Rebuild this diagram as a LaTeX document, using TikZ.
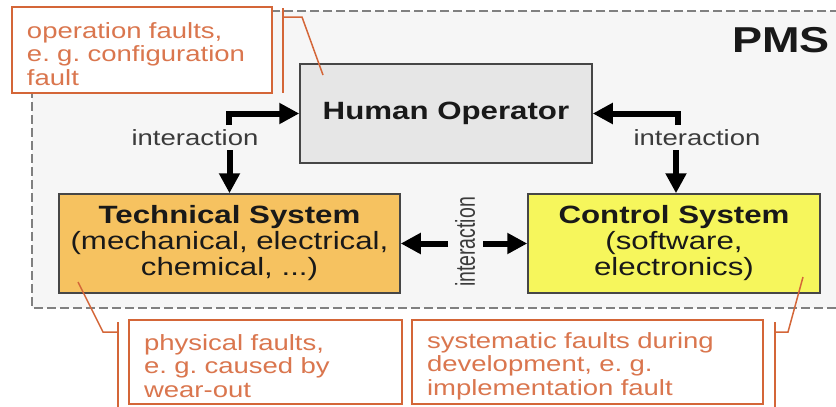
\documentclass[tikz,border=0pt]{standalone}
\usepackage{fontspec}
\setmainfont{Liberation Sans}[FakeStretch=1.25]
\newfontfamily\plainfont{Liberation Sans}
\usetikzlibrary{arrows.meta}
\definecolor{annc}{RGB}{212,102,56}
\definecolor{annt}{RGB}{218,118,78}
\definecolor{tsfill}{RGB}{246,194,96}
\definecolor{csfill}{RGB}{246,246,92}
\definecolor{hofill}{RGB}{230,230,230}
\definecolor{pmsfill}{RGB}{246,246,246}
\definecolor{pmsline}{RGB}{128,128,128}
\definecolor{boxline}{RGB}{70,70,70}
\definecolor{txt}{RGB}{25,25,25}
\frenchspacing
\begin{document}
\begin{tikzpicture}[x=1pt,y=-1pt,
  mainbox/.style={draw=boxline, line width=1.5pt, inner sep=0pt, align=center, text=txt, font=\fontsize{25}{26}\selectfont},
  annbox/.style={draw=annc, line width=2pt, fill=white, inner xsep=15pt, inner ysep=0pt, align=left, text=annt, font=\fontsize{22}{23.5}\selectfont},
  callout/.style={draw=annc, line width=1.5pt},
  arr/.style={line width=6pt, -{Triangle[length=20pt,width=20pt]}, black},
  lbl/.style={text=txt!85, font=\fontsize{22}{24}\selectfont, inner sep=0pt}]
\useasboundingbox (0,0) rectangle (836,407);
\clip (0,0) rectangle (836,407);
\fill[white] (0,0) rectangle (836,407);
% PMS container
\draw[draw=pmsline, fill=pmsfill, line width=1.5pt, dash pattern=on 9pt off 4pt] (32,11) rectangle (860,308);
\node[anchor=base east, inner sep=0pt, text=txt, font=\fontsize{36}{38}\selectfont\bfseries] (pms) at (830,52) {PMS};
% main boxes
\node[mainbox, fill=hofill, minimum width=292pt, minimum height=99pt] (HO) at (446,113.5) {\textbf{Human Operator}};
\node[mainbox, fill=tsfill, minimum width=341pt, minimum height=99pt] (TS) at (229.5,243.5) {\textbf{Technical System}\\(mechanical, electrical,\\chemical, ...)};
\node[mainbox, fill=csfill, minimum width=292pt, minimum height=99pt] (CS) at (674,243.5) {\textbf{Control System}\\(software,\\electronics)};
% interaction labels
\node[lbl, anchor=base] (il1) at (195,145) {interaction};
\node[lbl, anchor=base] (il2) at (697,145) {interaction};
\node[inner sep=0pt, text=txt!85] (il3) at (465,242) {\rotatebox{90}{\scalebox{1}[1.4]{\plainfont\fontsize{19.5}{20}\selectfont interaction}}};
% arrow coordinates
\coordinate (c1) at (229,125);
\coordinate (c2) at (229.5,150);
\coordinate (c3) at (678,125);
\coordinate (c4) at (676,150);
\coordinate (m1) at (448,243.5);
\coordinate (m2) at (483,243.5);
\draw[arr] (c1) |- (HO.west);
\draw[arr] (c2) -- (c2 |- TS.north);
\draw[arr] (c3) |- (HO.east);
\draw[arr] (c4) -- (c4 |- CS.north);
\draw[arr] (m1) -- (TS.east);
\draw[arr] (m2) -- (CS.west);
% annotation boxes
\node[annbox, text width=230pt, minimum height=86pt] (A1) at (142,50) {\rule{0pt}{24pt}operation faults,\\e. g. configuration\\fault};
\node[annbox, text width=243pt, minimum height=84pt] (A2) at (265.5,362) {\rule{0pt}{24pt}physical faults,\\e. g. caused by\\wear-out};
\node[annbox, text width=321pt, minimum height=84pt] (A3) at (587.5,362) {\rule{0pt}{24pt}systematic faults during\\development, e. g.\\implementation fault};
% callouts
\coordinate (b1t) at (283,8);
\coordinate (b1b) at (283,93);
\coordinate (b1m) at (283,17);
\coordinate (b1k) at (302,17);
\coordinate (b1e) at (323,75);
\draw[callout] (b1t) -- (b1b);
\draw[callout] (b1m) -- (b1k) -- (b1e);
\coordinate (b2t) at (118,322);
\coordinate (b2b) at (118,410);
\coordinate (b2m) at (118,332);
\coordinate (b2k) at (103,332);
\coordinate (b2e) at (78,282);
\draw[callout] (b2t) -- (b2b);
\draw[callout] (b2m) -- (b2k) -- (b2e);
\coordinate (b3t) at (775,322);
\coordinate (b3b) at (775,410);
\coordinate (b3m) at (775,332);
\coordinate (b3k) at (788,332);
\coordinate (b3e) at (803,277);
\draw[callout] (b3t) -- (b3b);
\draw[callout] (b3m) -- (b3k) -- (b3e);
\end{tikzpicture}
\end{document}
